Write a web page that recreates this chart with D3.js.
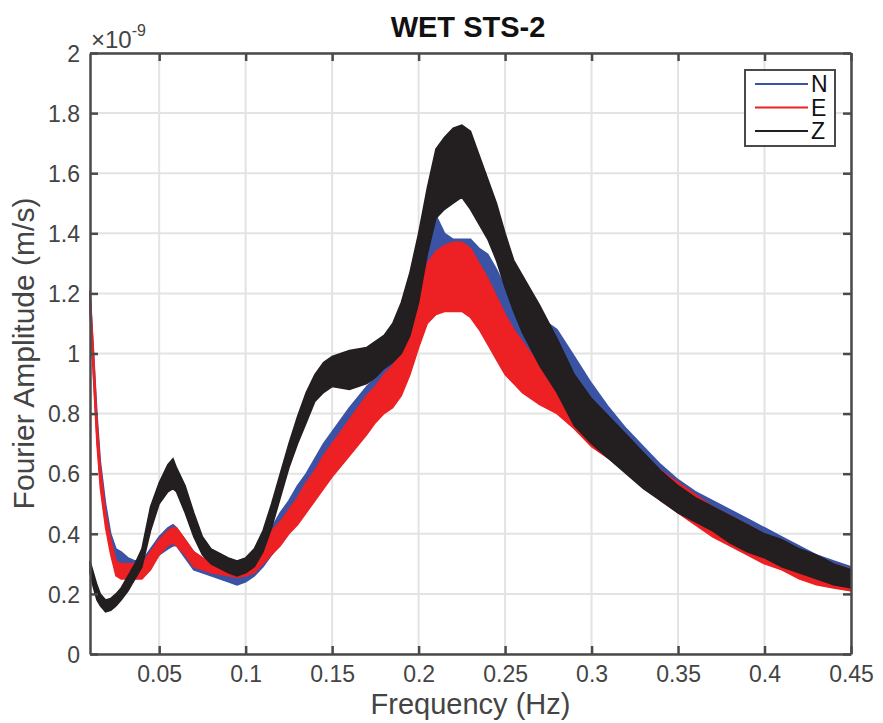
<!DOCTYPE html>
<meta charset="utf-8">
<style>
body { margin: 0; background: #fff; }
text { font-family: "Liberation Sans", Arial, sans-serif; }
</style>
<body>
<script src="https://cdn.jsdelivr.net/npm/d3@7"></script>
<script>

// frequency grid (Hz) and envelope of each noisy spectrum (x 1e-9 m/s)
var freq = [0.01,0.012,0.014,0.016,0.019,0.022,0.025,0.028,0.032,0.036,
  0.04,0.045,0.05,0.055,0.058,0.06,0.065,0.07,0.075,0.08,
  0.09,0.095,0.1,0.105,0.11,0.115,0.12,0.125,0.13,0.135,
  0.14,0.145,0.15,0.16,0.17,0.175,0.18,0.185,0.19,0.195,
  0.2,0.205,0.21,0.215,0.22,0.225,0.23,0.235,0.24,0.245,
  0.25,0.255,0.26,0.27,0.28,0.29,0.3,0.31,0.32,0.33,
  0.34,0.35,0.36,0.37,0.38,0.39,0.4,0.41,0.42,0.43,
  0.44,0.45];

var nLow = [1.15,0.93,0.72,0.57,0.44,0.35,0.30,0.28,0.26,0.25,
  0.26,0.29,0.33,0.35,0.36,0.36,0.32,0.28,0.27,0.26,
  0.24,0.23,0.24,0.26,0.29,0.33,0.37,0.41,0.45,0.49,
  0.53,0.57,0.61,0.69,0.76,0.79,0.82,0.86,0.90,0.97,
  1.06,1.14,1.18,1.20,1.20,1.20,1.18,1.15,1.12,1.08,
  1.04,1.00,0.97,0.91,0.85,0.79,0.74,0.69,0.64,0.59,
  0.55,0.50,0.47,0.43,0.39,0.36,0.33,0.31,0.28,0.26,
  0.24,0.23];
var nHigh = [1.21,1.01,0.80,0.64,0.50,0.40,0.35,0.34,0.32,0.31,
  0.31,0.35,0.39,0.42,0.43,0.42,0.38,0.34,0.32,0.31,
  0.30,0.29,0.30,0.33,0.36,0.42,0.47,0.51,0.56,0.60,
  0.65,0.70,0.74,0.82,0.89,0.92,0.96,1.00,1.05,1.17,
  1.28,1.38,1.46,1.40,1.38,1.38,1.38,1.35,1.33,1.28,
  1.22,1.18,1.16,1.12,1.08,0.99,0.90,0.82,0.75,0.69,
  0.63,0.58,0.54,0.51,0.48,0.45,0.42,0.39,0.36,0.33,
  0.31,0.29];

var eLow = [1.15,0.92,0.70,0.55,0.42,0.33,0.26,0.25,0.25,0.25,
  0.25,0.28,0.33,0.36,0.37,0.36,0.33,0.29,0.28,0.27,
  0.26,0.255,0.26,0.27,0.30,0.33,0.36,0.40,0.43,0.47,
  0.51,0.55,0.59,0.66,0.73,0.77,0.80,0.82,0.86,0.93,
  1.02,1.10,1.13,1.14,1.14,1.14,1.12,1.08,1.03,0.98,
  0.93,0.90,0.87,0.83,0.80,0.75,0.69,0.65,0.61,0.56,
  0.51,0.47,0.43,0.39,0.36,0.33,0.30,0.28,0.25,0.23,
  0.22,0.21];
var eHigh = [1.21,1.00,0.78,0.62,0.47,0.38,0.31,0.30,0.30,0.30,
  0.30,0.34,0.38,0.41,0.42,0.42,0.38,0.34,0.32,0.31,
  0.30,0.30,0.31,0.33,0.35,0.41,0.44,0.48,0.52,0.57,
  0.61,0.66,0.70,0.78,0.86,0.89,0.93,0.96,1.01,1.10,
  1.20,1.30,1.34,1.36,1.37,1.37,1.35,1.30,1.25,1.19,
  1.13,1.08,1.04,0.96,0.92,0.86,0.80,0.75,0.71,0.66,
  0.61,0.57,0.53,0.49,0.46,0.43,0.40,0.37,0.34,0.32,
  0.30,0.28];

var zLow = [0.27,0.22,0.18,0.16,0.14,0.145,0.16,0.18,0.21,0.25,
  0.29,0.41,0.50,0.54,0.55,0.54,0.47,0.39,0.33,0.30,
  0.27,0.26,0.27,0.29,0.34,0.42,0.52,0.62,0.70,0.77,
  0.84,0.87,0.89,0.88,0.90,0.92,0.95,0.97,1.00,1.06,
  1.17,1.33,1.45,1.48,1.50,1.52,1.48,1.43,1.38,1.31,
  1.22,1.14,1.07,0.96,0.87,0.76,0.70,0.65,0.60,0.55,
  0.51,0.47,0.44,0.41,0.37,0.34,0.32,0.29,0.27,0.25,
  0.23,0.22];
var zHigh = [0.31,0.27,0.23,0.20,0.18,0.185,0.20,0.22,0.26,0.30,
  0.35,0.49,0.57,0.63,0.65,0.62,0.56,0.47,0.39,0.35,
  0.32,0.31,0.32,0.35,0.41,0.50,0.60,0.70,0.79,0.87,
  0.93,0.97,0.99,1.01,1.02,1.04,1.06,1.10,1.17,1.27,
  1.40,1.55,1.68,1.72,1.75,1.76,1.74,1.66,1.58,1.50,
  1.40,1.31,1.26,1.16,1.05,0.93,0.85,0.79,0.73,0.67,
  0.61,0.56,0.52,0.49,0.46,0.43,0.40,0.38,0.35,0.33,
  0.30,0.28];

var seriesNames = ["N", "E", "Z"];
var seriesColors = ["#3a53a4", "#ed2024", "#231f20"];
var xTicks = [0.05,0.1,0.15,0.2,0.25,0.3,0.35,0.4,0.45];
var yTicks = [0,0.2,0.4,0.6,0.8,1,1.2,1.4,1.6,1.8,2];

var W = 883, H = 723;
var margin = {top: 53, right: 32, bottom: 69, left: 90};

var x = d3.scaleLinear().domain([0.01, 0.45]).range([margin.left, W - margin.right]);
var y = d3.scaleLinear().domain([0, 2]).range([H - margin.bottom, margin.top]);

var svg = d3.select("body").append("svg")
    .attr("width", W)
    .attr("height", H);

// grid
svg.append("g").selectAll("line").data(xTicks).enter().append("line")
    .attr("x1", d => x(d)).attr("x2", d => x(d))
    .attr("y1", y(0)).attr("y2", y(2))
    .attr("stroke", "#e3e3e3").attr("stroke-width", 2);
svg.append("g").selectAll("line").data(yTicks).enter().append("line")
    .attr("x1", x(0.01)).attr("x2", x(0.45))
    .attr("y1", d => y(d)).attr("y2", d => y(d))
    .attr("stroke", "#e3e3e3").attr("stroke-width", 2);

// spectra drawn as filled envelopes
var bands = [[nLow, nHigh], [eLow, eHigh], [zLow, zHigh]];
var area = d3.area()
    .x((d, i) => x(freq[i]))
    .y0(d => y(d[0]))
    .y1(d => y(d[1]));

bands.forEach(function(b, k) {
  var pts = freq.map((f, i) => [b[0][i], b[1][i]]);
  svg.append("path")
      .datum(pts)
      .attr("d", area)
      .attr("fill", seriesColors[k])
      .attr("stroke", seriesColors[k])
      .attr("stroke-width", 1.5)
      .attr("stroke-linejoin", "miter");
});

// axes (box with inward ticks)
var axisColor = "#4a4a4a";
var tl = 8;
var gx = svg.append("g")
    .attr("transform", "translate(0," + y(0) + ")")
    .call(d3.axisBottom(x).tickValues(xTicks).tickSizeInner(-tl).tickSizeOuter(0).tickPadding(12)
      .tickFormat(d3.format("~g")));
var gx2 = svg.append("g")
    .attr("transform", "translate(0," + y(2) + ")")
    .call(d3.axisTop(x).tickValues(xTicks).tickSizeInner(-tl).tickSizeOuter(0).tickFormat(""));
var gy = svg.append("g")
    .attr("transform", "translate(" + x(0.01) + ",0)")
    .call(d3.axisLeft(y).tickValues(yTicks).tickSizeInner(-tl).tickSizeOuter(0).tickPadding(10)
      .tickFormat(d3.format("~g")));
var gy2 = svg.append("g")
    .attr("transform", "translate(" + x(0.45) + ",0)")
    .call(d3.axisRight(y).tickValues(yTicks).tickSizeInner(-tl).tickSizeOuter(0).tickFormat(""));

[gx, gx2, gy, gy2].forEach(function(g) {
  g.select(".domain").attr("stroke", axisColor).attr("stroke-width", 2.5);
  g.selectAll(".tick line").attr("stroke", axisColor).attr("stroke-width", 2.5);
  g.selectAll(".tick text").attr("fill", "#444").attr("font-size", 23)
    .attr("font-family", "Liberation Sans, Arial, sans-serif");
});
gy.selectAll(".tick text").attr("dy", "0.36em");

// exponent label
var ex = svg.append("text").attr("x", x(0.01) + 1).attr("y", 48)
    .attr("fill", "#444").attr("font-size", 24);
ex.append("tspan").text("\u00d710");
ex.append("tspan").attr("dy", -12).attr("font-size", 16).text("-9");

// title and axis labels
svg.append("text").attr("x", 468).attr("y", 37)
    .attr("text-anchor", "middle").attr("font-weight", "bold")
    .attr("font-size", 29).attr("fill", "#111").text("WET STS-2");

svg.append("text").attr("x", (x(0.01) + x(0.45)) / 2).attr("y", 714)
    .attr("text-anchor", "middle").attr("font-size", 29).attr("fill", "#444")
    .text("Frequency (Hz)");

svg.append("text")
    .attr("transform", "translate(34," + ((y(0) + y(2)) / 2) + ") rotate(-90)")
    .attr("text-anchor", "middle").attr("font-size", 30).attr("fill", "#444")
    .text("Fourier Amplitude (m/s)");

// legend
var lg = svg.append("g");
lg.append("rect").attr("x", 745).attr("y", 70).attr("width", 90).attr("height", 76)
    .attr("fill", "#fff").attr("stroke", axisColor).attr("stroke-width", 2);
seriesNames.forEach(function(n, i) {
  var ly = 84 + i * 23.5;
  lg.append("line").attr("x1", 755).attr("x2", 808).attr("y1", ly).attr("y2", ly)
      .attr("stroke", seriesColors[i]).attr("stroke-width", 2);
  lg.append("text").attr("x", 811).attr("y", ly + 8).attr("font-size", 23)
      .attr("fill", "#111").text(n);
});

</script>
</body>
</html>
